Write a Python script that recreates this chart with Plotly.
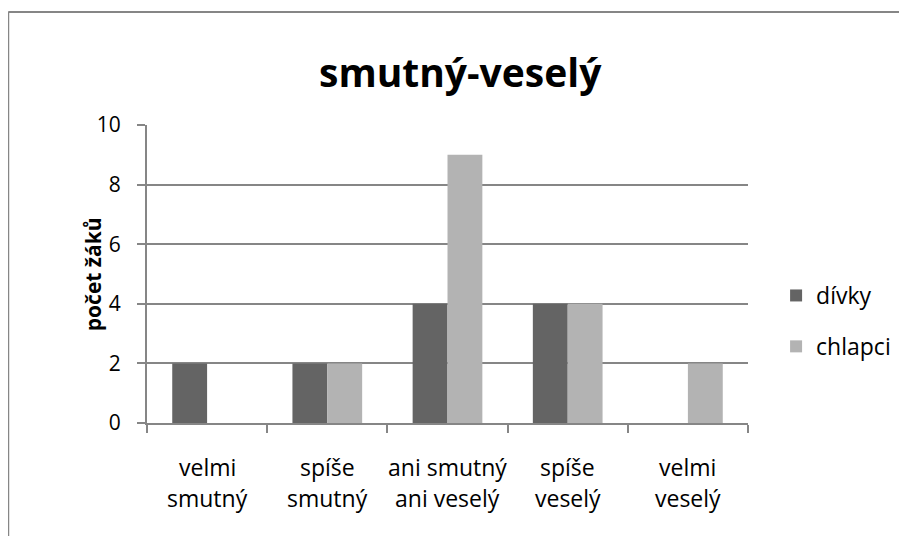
import plotly.graph_objects as go

category_lines = [["velmi", "smutný"], ["spíše", "smutný"], ["ani smutný", "ani veselý"],
                  ["spíše", "veselý"], ["velmi", "veselý"]]
categories = [" ".join(l) for l in category_lines]
divky = [2, 2, 4, 4, 0]
chlapci = [0, 2, 9, 4, 2]
series_names = ["dívky", "chlapci"]
title_text = "smutný-veselý"
y_title = "počet žáků"
y_ticks = [0, 2, 4, 6, 8, 10]

FONT = "Open Sans"
GRID = "#868686"

fig = go.Figure()
fig.add_trace(go.Bar(x=categories, y=divky, name=series_names[0], marker_color="#646464",
                     marker_line_width=0, legendgroup="a"))
fig.add_trace(go.Bar(x=categories, y=chlapci, name=series_names[1], marker_color="#b3b3b3",
                     marker_line_width=0, legendgroup="b"))

annotations = []
for cat, lines in zip(categories, category_lines):
    annotations.append(dict(x=cat, xref="x", y=-0.148, yref="paper", text=lines[0],
                            showarrow=False, yanchor="middle", xanchor="center",
                            font=dict(family=FONT, size=23, color="#000")))
    annotations.append(dict(x=cat, xref="x", y=-0.252, yref="paper", text=lines[1],
                            showarrow=False, yanchor="middle", xanchor="center",
                            font=dict(family=FONT, size=23, color="#000")))
annotations.append(dict(x=-0.0895, xref="paper", y=0.5, yref="paper", text="<b>" + y_title + "</b>",
                        textangle=-90, showarrow=False, xanchor="center", yanchor="middle",
                        font=dict(family=FONT, size=21, color="#000")))
annotations.append(dict(x=0.5224, xref="paper", y=(415 - 64) / 298, yref="paper",
                        text="<b>" + title_text + "</b>", showarrow=False,
                        xanchor="center", yanchor="middle",
                        font=dict(family=FONT, size=39, color="#000")))

bx0 = (0 - 139) / 602
bx1 = (899 - 139) / 602
by1 = (415 - 4) / 298

fig.update_layout(
    width=899, height=528,
    margin=dict(l=139, r=158, t=117, b=113),
    paper_bgcolor="white", plot_bgcolor="white",
    barmode="group", bargap=0.42, bargroupgap=0,
    font=dict(family=FONT, size=23, color="#000"),
    showlegend=True,
    legend=dict(x=1.045, y=0.50, xanchor="left", yanchor="top",
                traceorder="grouped", tracegroupgap=18,
                font=dict(family=FONT, size=23, color="#000"), itemwidth=30),
    xaxis=dict(type="category", showticklabels=False, tickson="boundaries", ticks="outside",
               ticklen=8, tickcolor=GRID, tickwidth=2, showline=True, linecolor=GRID, linewidth=2,
               showgrid=False, zeroline=False),
    yaxis=dict(range=[0, 10], tickvals=y_ticks, ticks="outside", ticklen=8, tickcolor=GRID,
               tickwidth=2, showline=True, linecolor=GRID, linewidth=2, gridcolor=GRID,
               gridwidth=2, zeroline=False, ticklabelstandoff=12,
               tickfont=dict(family=FONT, size=21, color="#000")),
    annotations=annotations,
    shapes=[
        dict(type="line", xref="paper", yref="paper", x0=bx0, x1=bx0, y0=-0.6, y1=by1,
             line=dict(color=GRID, width=2), layer="below"),
        dict(type="line", xref="paper", yref="paper", x0=bx0, x1=bx1, y0=by1, y1=by1,
             line=dict(color=GRID, width=2), layer="below"),
    ],
)

fig.write_html("out.html", config={"displayModeBar": False},
               post_script="document.body.style.overflow='hidden';")
